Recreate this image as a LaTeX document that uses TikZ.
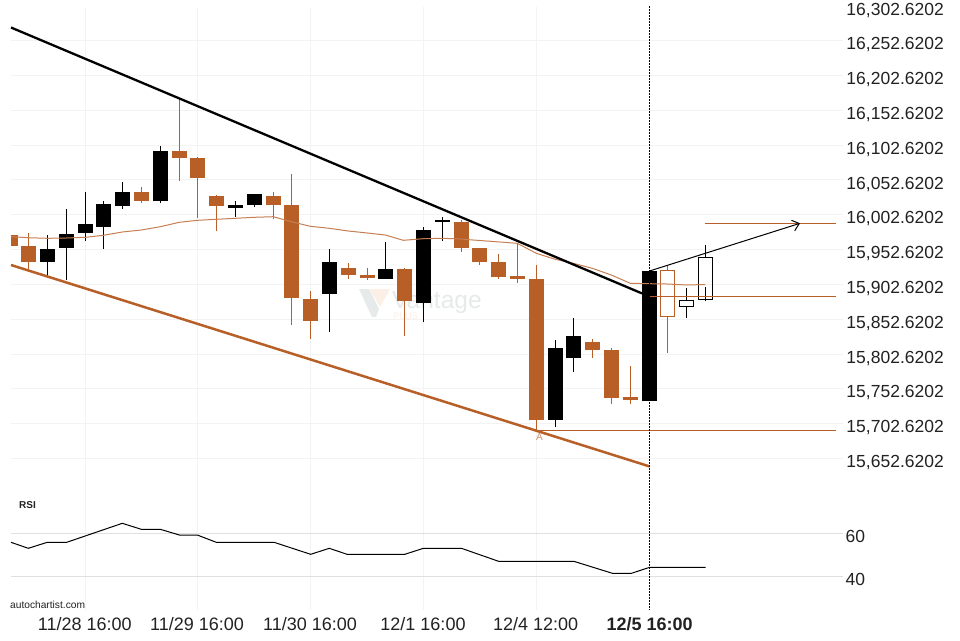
\documentclass[tikz,border=0pt]{standalone}
\usepackage{fontspec}
\setmainfont{Liberation Sans}
\usetikzlibrary{arrows.meta}
\definecolor{cdl}{HTML}{B85F28}
\definecolor{gridc}{HTML}{F3F3F3}
\definecolor{rsigrid}{HTML}{E0E0E0}
\definecolor{axtext}{HTML}{222222}
\definecolor{wmgray}{HTML}{E7EAEA}
\definecolor{wmorange}{HTML}{FBEFE6}
\tikzset{
  gridline/.style={gridc,line width=0.8pt},
  rsiline/.style={rsigrid,line width=0.9pt},
  wickline/.style={line width=1pt},
  trendline/.style={line width=2.3pt},
  levelline/.style={cdl,line width=1.1pt},
  axlabel/.style={text=axtext,inner sep=0pt,font=\fontsize{17.5}{20}\selectfont},
  timelabel/.style={text=axtext,inner sep=0pt,font=\fontsize{18}{20}\selectfont},
  smalllabel/.style={inner sep=0pt,text=black}
}
\begin{document}
\begin{tikzpicture}[x=1pt,y=-1pt]
\useasboundingbox[fill=white] (0,0) rectangle (960,640);
% grid
\foreach \i in {1,...,13}{
  \draw[gridline] (11,{5.5+34.85*\i}) -- (843,{5.5+34.85*\i});
}
\foreach \x in {85.3,197.3,310.3,423.3,536.3}{
  \draw[gridline] (\x,7) -- (\x,610);
}
\draw[rsiline] (11,533.3) -- (843,533.3);
\draw[rsiline] (11,576.3) -- (843,576.3);
% watermark
\fill[wmgray] (359,289) -- (369,289) -- (379,309) -- (376,317) -- (372,317) -- cycle;
\fill[wmorange] (369.5,289) -- (390,289) -- (380,307) -- cycle;
\node[anchor=base west,inner sep=0pt,text depth=0pt,text=wmgray,font=\fontsize{24.5}{30}\selectfont] (wmname) at (392,308.5) {Vantage};
\node[anchor=base west,inner sep=0pt,text=wmorange,font=\fontsize{9.5}{11}\selectfont] (wmplus) at (393,319.5) {PLUS};
% first candle clipped
\begin{scope}
\clip (11,0) rectangle (30,300);
\fill[cdl] (1.8,235) rectangle (18,246);
\end{scope}
% orange candles: x/top/bottom/wick top/wick bottom
\foreach \x/\t/\b/\wt/\wb in {
 28.3/246/262/233.3/270, 141.3/192/201/187.3/203.3, 179.3/151/158/98/181.3,
 197.3/158/178/157.3/218.3, 216.3/196/206/195/231.3, 273.3/196/205/192.3/219.3,
 291.3/205/298/174.3/324.7, 310.3/299/321/291.3/338.7, 348.3/268/275/263/279.3,
 367.3/275/278/268/280.3, 404.3/269/301/268/336.3, 461.3/222/248/220/251.7,
 479.3/248/262/248/265.3, 498.3/262/277/254.3/278.7, 517.3/276/279/243.3/283.3,
 536.3/279/420/265.3/430, 592.3/342/350/339/357.7, 611.3/350/398/348/403.7,
 630.3/397/400/366/403.7}{
  \draw[cdl,wickline] (\x,\wt) -- (\x,\wb);
  \fill[cdl] ({\x-7.5},\t) rectangle ({\x+7.5},\b);
}
% black candles
\foreach \x/\t/\b/\wt/\wb in {
 47.3/249/262/235.3/276, 66.3/234/248/209.3/280, 85.3/224/233/192.3/241.3,
 103.3/204/227/201/249.3, 122.3/192/206/182.3/208.7, 160.3/151/201/146/203.3,
 235.3/205/208/201/216.7, 254.3/194/205/194/206.7, 329.3/262/294/249.3/332.3,
 385.3/269/279/242.3/279.3, 423.3/230/303/227.3/322.3, 442.3/220/222/217.3/241.3,
 555.3/348/420/340/426.7, 573.3/336/358/318.3/371.7, 649.3/271/401/271/401}{
  \draw[black,wickline] (\x,\wt) -- (\x,\wb);
  \fill[black] ({\x-7.5},\t) rectangle ({\x+7.5},\b);
}
% hollow candles
\draw[cdl,wickline] (667.3,265.3) -- (667.3,270.3) (667.3,316.7) -- (667.3,353.3);
\draw[cdl,line width=1.1pt] (660.3,270.3) rectangle (674.7,316.7);
\draw[black,wickline] (686.3,288.3) -- (686.3,300.3) (686.3,306.7) -- (686.3,318.3);
\draw[black,line width=1.1pt] (679.3,300.3) rectangle (693.3,306.7);
\draw[black,wickline] (705.3,245.3) -- (705.3,257.3) (705.3,287) -- (705.3,300.7);
\draw[black,line width=1.1pt] (698.3,257.3) rectangle (712.7,299.3);
% moving average
\draw[cdl!80!white,line width=1pt,line join=round] (11,236.7) -- (28.3,237.7) -- (47.3,238.3) -- (66.3,238) -- (85.3,237.3)
 -- (103.3,235.3) -- (122.3,232) -- (141.3,230) -- (160.3,226.7) -- (179.3,222.3) -- (197.3,220.3)
 -- (216.3,219.3) -- (235.3,218.3) -- (254.3,217.3) -- (273.3,216.7) -- (291.3,221.7) -- (310.3,226.3)
 -- (329.3,228.3) -- (348.3,231) -- (367.3,233) -- (385.3,235) -- (403.3,240.3) -- (423.3,238.7)
 -- (442.3,238.3) -- (461.3,239) -- (469,239.7) -- (517.3,243.3) -- (536.3,253.3) -- (555.3,259.3)
 -- (573.3,263.3) -- (592.3,268.3) -- (611.3,275) -- (630.3,283.3) -- (649.3,283.7) -- (667.3,284)
 -- (686.3,285) -- (705.3,284.5);
% trend lines
\draw[black,trendline] (11,27.5) -- (642,293.4);
\draw[cdl,line width=2.5pt] (11,265) -- (649.5,466.4);
% level lines
\draw[levelline] (649.5,296.5) -- (836,296.5);
\draw[levelline] (705,223.3) -- (836,223.3);
\draw[levelline] (536.5,430.3) -- (836,430.3);
% projection arrow
\draw[black,line width=1pt,-{Straight Barb[length=6.5pt,width=11pt]}] (649.5,271) -- (800,223.3);
% dashed line
\draw[black,line width=1.1pt,dash pattern=on 2pt off 1pt] (649.5,6) -- (649.5,610);
% RSI
\draw[black,line width=1pt,line join=round] (11,542.3) -- (28.3,548.3) -- (47.3,542.3) -- (66.7,542.3) -- (122.3,523.3)
 -- (141.3,529.3) -- (160.3,529.3) -- (179.3,535) -- (197.3,535) -- (216.3,542.3) -- (274,542.3)
 -- (310.7,554.3) -- (329.3,548.3) -- (347,554.3) -- (404.8,554.3) -- (423.4,548.3) -- (461.4,548.3)
 -- (498.6,561.3) -- (573.8,561.3) -- (612.4,573.3) -- (631.4,573.3) -- (649.7,567.3) -- (705.5,567.3);
% price axis
\foreach \i/\lab in {0/16{,}302.6202,1/16{,}252.6202,2/16{,}202.6202,3/16{,}152.6202,4/16{,}102.6202,5/16{,}052.6202,6/16{,}002.6202,7/15{,}952.6202,8/15{,}902.6202,9/15{,}852.6202,10/15{,}802.6202,11/15{,}752.6202,12/15{,}702.6202,13/15{,}652.6202}{
  \node[axlabel,anchor=base east] (price\i) at (944,{15+34.8*\i}) {\lab};
}
\node[axlabel,anchor=base west] (rsisixty) at (845.5,542) {60};
\node[axlabel,anchor=base west] (rsiforty) at (845.5,585) {40};
% time axis
\node[timelabel,anchor=base] (t1) at (84.7,630) {11/28 16:00};
\node[timelabel,anchor=base] (t2) at (197,630) {11/29 16:00};
\node[timelabel,anchor=base] (t3) at (310,630) {11/30 16:00};
\node[timelabel,anchor=base] (t4) at (423,630) {12/1 16:00};
\node[timelabel,anchor=base] (t5) at (535.7,630) {12/4 12:00};
\node[timelabel,anchor=base,font=\fontsize{18}{20}\selectfont\bfseries] (t6) at (649.7,630) {12/5 16:00};
% small labels
\node[smalllabel,anchor=base west,font=\fontsize{10}{12}\selectfont\bfseries,text=axtext] (rsilabel) at (19,508) {RSI};
\node[smalllabel,anchor=base west,font=\fontsize{10.2}{12}\selectfont,text=axtext] (source) at (10,608) {autochartist.com};
\node[smalllabel,anchor=base,font=\fontsize{10}{12}\selectfont,text=cdl!70!white] (pointA) at (539.5,440) {A};
\end{tikzpicture}
\end{document}
